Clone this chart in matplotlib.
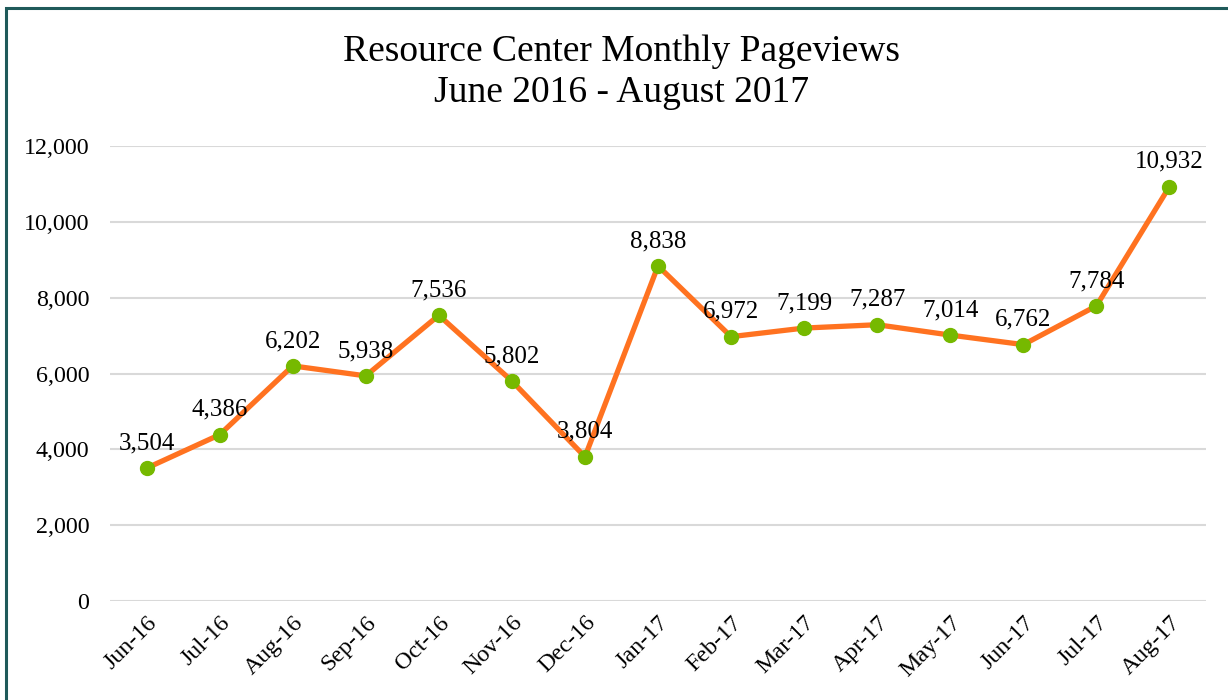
import matplotlib.pyplot as plt
from matplotlib.patches import Rectangle
from matplotlib.ticker import FuncFormatter

plt.rcParams.update({
    'font.family': ['Liberation Serif', 'DejaVu Serif'],
    'font.size': 17.3,
})

# Monthly pageviews
months = ['Jun-16', 'Jul-16', 'Aug-16', 'Sep-16', 'Oct-16', 'Nov-16', 'Dec-16',
          'Jan-17', 'Feb-17', 'Mar-17', 'Apr-17', 'May-17', 'Jun-17', 'Jul-17', 'Aug-17']
pageviews = [3504, 4386, 6202, 5938, 7536, 5802, 3804,
             8838, 6972, 7199, 7287, 7014, 6762, 7784, 10932]

line_color = '#ff7220'
marker_color = '#76b900'

fig = plt.figure(figsize=(12.28, 7), dpi=100)
ax = fig.add_axes([0.0896, 0.1414, 0.8925, 0.65])

x = list(range(len(months)))
ax.plot(x, pageviews, color=line_color, linewidth=3.8, marker='o',
        markersize=10, markerfacecolor=marker_color, markeredgecolor=marker_color,
        zorder=3)

for xi, v in zip(x, pageviews):
    ax.annotate(f'{v:,}', (xi, v), xytext=(0, 10), textcoords='offset points',
                ha='center', va='bottom', fontsize=18, zorder=4)

ax.set_xlim(-0.5, len(months) - 0.5)
ax.set_ylim(0, 12000)
ax.set_yticks(range(0, 12001, 2000))
ax.yaxis.set_major_formatter(FuncFormatter(lambda v, p: f'{int(v):,}'))
ax.set_xticks(x)
ax.set_xticklabels(months, rotation=45, ha='right', rotation_mode='anchor')
ax.tick_params(axis='both', length=0)
ax.tick_params(axis='y', pad=15)
ax.tick_params(axis='x', pad=8)
ax.grid(axis='y', color='#d9d9d9', linewidth=1.5)
ax.set_axisbelow(True)
for s in ax.spines.values():
    s.set_visible(False)

fig.text(0.506, 0.897, 'Resource Center Monthly Pageviews\nJune 2016 - August 2017',
         ha='center', va='center', fontsize=27, linespacing=1.22)

# frame (left and top edges visible)
fig.patches.append(Rectangle((6 / 1228, -0.1), 1.2, 1.1 - 8 / 700,
                             transform=fig.transFigure, fill=False,
                             edgecolor='#1f5a5a', linewidth=2.2))

fig.savefig('out.png', dpi=100)
